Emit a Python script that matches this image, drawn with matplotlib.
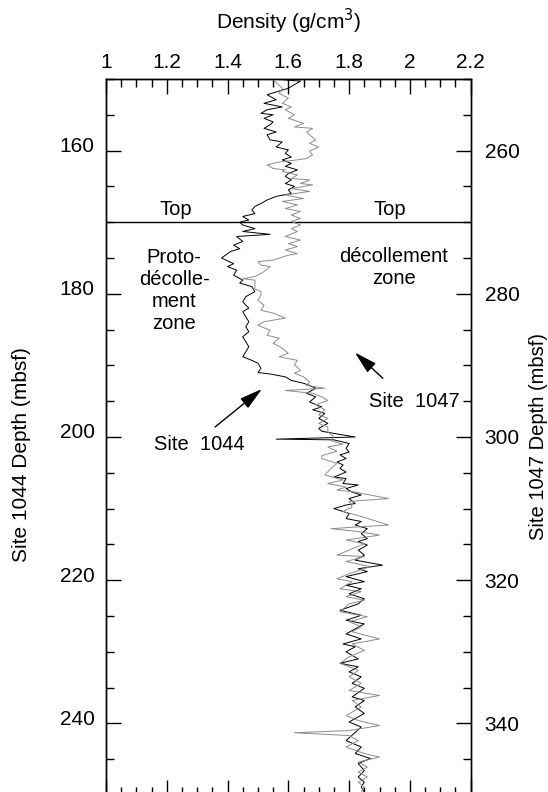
import matplotlib
matplotlib.use("Agg")
import matplotlib.pyplot as plt
from matplotlib.ticker import MultipleLocator
from matplotlib.transforms import ScaledTranslation

plt.rcParams['font.family'] = ['Liberation Sans', 'DejaVu Sans']

# Site 1044 (black): depth (mbsf) and density (g/cm3)
depth_1044 = [150.0, 150.3, 151.3, 152.2, 152.9, 153.4, 153.9, 154.3, 154.8, 155.0,
              155.5, 156.0, 156.4, 156.9, 157.4, 157.8, 158.5, 158.8, 159.5, 159.9,
              160.4, 160.9, 161.3, 161.8, 162.2, 162.7, 163.2, 163.6, 164.1, 164.6,
              165.0, 165.5, 166.0, 166.4, 166.9, 167.4, 167.8, 168.3, 168.8, 169.2,
              169.7, 170.0, 170.4, 170.9, 171.3, 171.7, 172.0, 172.7, 173.2, 173.7,
              174.1, 174.4, 175.0, 175.8, 176.2, 176.7, 177.4, 178.1, 178.5, 179.0,
              179.7, 180.4, 181.1, 181.6, 182.0, 182.5, 183.2, 183.9, 184.6, 185.3,
              186.0, 186.7, 187.4, 188.8, 189.3, 189.7, 190.4, 191.0, 191.2, 191.6,
              192.1, 192.5, 192.8, 193.2, 193.9, 194.4, 195.1, 195.8, 196.2, 196.7,
              197.4, 198.1, 198.8, 199.2, 199.5, 200.0, 200.3, 200.4, 200.9, 201.6,
              202.1, 202.5, 203.0, 203.5, 203.9, 204.4, 204.9, 205.6, 205.8, 206.5,
              206.7, 207.2, 207.7, 208.1, 208.6, 209.3, 209.5, 210.0, 210.4, 210.7,
              211.4, 211.8, 212.3, 212.8, 213.5, 214.2, 214.6, 215.1, 215.8, 216.5,
              217.2, 217.9, 218.4, 218.8, 219.5, 220.2, 220.7, 221.2, 221.9, 222.6,
              223.3, 224.2, 224.9, 225.6, 226.1, 227.5, 228.2, 228.9, 229.3, 230.0,
              231.0, 231.6, 232.1, 232.8, 233.5, 234.4, 235.1, 236.3, 236.8, 237.7,
              238.6, 239.8, 240.5, 242.4, 243.3, 244.2, 244.9, 245.6, 246.6, 247.5,
              248.2, 248.9, 249.6]
density_1044 = [1.55, 1.64, 1.60, 1.53, 1.56, 1.52, 1.58, 1.53, 1.51, 1.55,
                1.52, 1.55, 1.54, 1.52, 1.56, 1.53, 1.54, 1.58, 1.56, 1.60,
                1.59, 1.61, 1.58, 1.61, 1.59, 1.63, 1.60, 1.59, 1.61, 1.59,
                1.62, 1.60, 1.61, 1.56, 1.53, 1.51, 1.49, 1.48, 1.49, 1.45,
                1.47, 1.44, 1.45, 1.49, 1.45, 1.54, 1.43, 1.45, 1.42, 1.44,
                1.41, 1.40, 1.38, 1.42, 1.40, 1.43, 1.42, 1.45, 1.44, 1.48,
                1.49, 1.46, 1.45, 1.46, 1.47, 1.45, 1.46, 1.47, 1.46, 1.47,
                1.45, 1.46, 1.47, 1.45, 1.48, 1.50, 1.51, 1.50, 1.54, 1.59,
                1.61, 1.65, 1.67, 1.69, 1.66, 1.69, 1.67, 1.71, 1.68, 1.72,
                1.70, 1.73, 1.70, 1.71, 1.75, 1.82, 1.56, 1.75, 1.80, 1.79,
                1.80, 1.77, 1.79, 1.76, 1.78, 1.77, 1.79, 1.75, 1.79, 1.78,
                1.83, 1.79, 1.81, 1.84, 1.80, 1.82, 1.79, 1.75, 1.78, 1.80,
                1.79, 1.84, 1.82, 1.86, 1.84, 1.86, 1.83, 1.86, 1.83, 1.85,
                1.82, 1.91, 1.83, 1.86, 1.79, 1.85, 1.79, 1.84, 1.80, 1.85,
                1.83, 1.77, 1.84, 1.79, 1.85, 1.79, 1.84, 1.78, 1.82, 1.79,
                1.83, 1.77, 1.83, 1.80, 1.84, 1.81, 1.85, 1.81, 1.85, 1.82,
                1.85, 1.80, 1.84, 1.79, 1.84, 1.82, 1.87, 1.83, 1.85, 1.83,
                1.85, 1.84, 1.85]

# Site 1047 (grey): depth (mbsf) and density (g/cm3)
depth_1047 = [250.1, 251.3, 252.0, 252.7, 253.4, 253.9, 254.3, 255.0, 255.5, 256.2,
              256.7, 256.9, 257.4, 257.8, 258.5, 259.0, 259.5, 260.1, 260.6, 261.1,
              261.3, 261.6, 262.0, 262.5, 262.7, 262.9, 263.4, 263.9, 264.1, 264.6,
              264.8, 265.3, 265.7, 266.2, 266.7, 267.1, 267.6, 268.1, 268.5, 269.0,
              269.5, 269.9, 270.4, 270.9, 271.3, 272.0, 272.5, 273.0, 273.4, 273.9,
              274.4, 274.6, 275.3, 275.5, 276.0, 276.2, 276.9, 277.6, 277.9, 278.1,
              279.3, 279.7, 280.2, 280.9, 281.6, 282.3, 282.7, 283.4, 283.9, 284.4,
              285.1, 285.8, 286.2, 286.9, 287.6, 288.3, 288.8, 289.3, 289.9, 290.7,
              291.1, 291.6, 292.3, 292.8, 293.2, 293.5, 293.9, 294.4, 294.9, 295.5,
              296.2, 296.9, 297.4, 298.1, 298.6, 299.3, 300.0, 300.5, 301.0, 301.4,
              302.0, 302.6, 303.0, 303.7, 304.4, 305.3, 306.0, 306.5, 307.0, 307.4,
              307.7, 308.6, 309.0, 309.8, 310.4, 311.1, 312.3, 312.8, 313.2, 313.7,
              314.4, 314.9, 315.8, 316.5, 316.7, 317.4, 318.1, 319.1, 319.8, 320.2,
              321.2, 321.6, 322.3, 322.8, 323.3, 324.4, 325.1, 325.8, 326.5, 327.2,
              328.2, 328.9, 329.8, 330.7, 331.6, 332.6, 333.5, 334.4, 335.4, 336.1,
              336.8, 337.7, 338.9, 339.6, 340.3, 341.0, 341.3, 341.7, 342.4, 343.3,
              344.2, 344.7, 345.4, 346.1, 346.8, 347.5, 348.2, 348.9, 349.6]
density_1047 = [1.55, 1.58, 1.57, 1.60, 1.58, 1.61, 1.59, 1.62, 1.60, 1.65,
                1.62, 1.68, 1.66, 1.67, 1.69, 1.67, 1.70, 1.67, 1.68, 1.66,
                1.63, 1.57, 1.53, 1.55, 1.59, 1.58, 1.63, 1.61, 1.67, 1.64,
                1.68, 1.61, 1.67, 1.59, 1.65, 1.58, 1.63, 1.59, 1.64, 1.61,
                1.64, 1.61, 1.64, 1.61, 1.63, 1.59, 1.64, 1.60, 1.63, 1.59,
                1.63, 1.60, 1.55, 1.50, 1.51, 1.54, 1.52, 1.49, 1.45, 1.49,
                1.49, 1.51, 1.51, 1.50, 1.52, 1.51, 1.55, 1.59, 1.52, 1.50,
                1.54, 1.53, 1.57, 1.55, 1.58, 1.60, 1.57, 1.63, 1.62, 1.64,
                1.62, 1.65, 1.67, 1.66, 1.72, 1.59, 1.68, 1.71, 1.73, 1.69,
                1.72, 1.70, 1.73, 1.70, 1.73, 1.73, 1.75, 1.74, 1.78, 1.73,
                1.76, 1.71, 1.71, 1.76, 1.74, 1.72, 1.78, 1.73, 1.79, 1.76,
                1.82, 1.93, 1.80, 1.81, 1.78, 1.84, 1.93, 1.74, 1.83, 1.90,
                1.79, 1.85, 1.80, 1.76, 1.85, 1.79, 1.87, 1.80, 1.76, 1.81,
                1.77, 1.84, 1.79, 1.85, 1.80, 1.77, 1.86, 1.80, 1.84, 1.81,
                1.90, 1.81, 1.85, 1.80, 1.77, 1.83, 1.80, 1.84, 1.80, 1.90,
                1.81, 1.84, 1.79, 1.83, 1.90, 1.80, 1.62, 1.80, 1.83, 1.79,
                1.85, 1.90, 1.83, 1.86, 1.83, 1.86, 1.83, 1.85, 1.84]

xticks = [1, 1.2, 1.4, 1.6, 1.8, 2, 2.2]
xticklabels = ['1', '1.2', '1.4', '1.6', '1.8', '2', '2.2']
yticks_1044 = [160, 180, 200, 220, 240]
yticks_1047 = [260, 280, 300, 320, 340]
top_depth = 170

fig = plt.figure(figsize=(5.48, 7.92), dpi=100)
ax = fig.add_axes([0.1934, -0.0038, 0.6655, 0.9041])
ax2 = ax.twinx()

ax.plot(density_1044, depth_1044, color='black', lw=0.7, zorder=3)
ax2.plot(density_1047, depth_1047, color='#8c8c8c', lw=0.7, zorder=2)

ax.set_xlim(1, 2.2)
ax.set_ylim(250, 150)
ax2.set_ylim(350, 250)

ax.xaxis.tick_top()
ax.xaxis.set_label_position('top')
ax.set_xticks(xticks)
ax.set_xticklabels(xticklabels)
ax.xaxis.set_minor_locator(MultipleLocator(0.05))
ax.set_yticks(yticks_1044)
ax.yaxis.set_minor_locator(MultipleLocator(5))
ax2.set_yticks(yticks_1047)
ax2.yaxis.set_minor_locator(MultipleLocator(5))

for a in (ax, ax2):
    a.tick_params(which='major', direction='in', length=11, width=1, labelsize=15)
    a.tick_params(which='minor', direction='in', length=5.5, width=1)
    for s in a.spines.values():
        s.set_linewidth(1)
ax.tick_params(axis='x', which='both', top=True, bottom=True, labeltop=True, labelbottom=False, pad=5)
ax.tick_params(axis='y', which='both', left=True, right=False, pad=8)
ax2.tick_params(axis='y', which='both', right=True, left=False, pad=10)

# left tick labels sit slightly above their ticks in the original
shift = ScaledTranslation(0, 6 / 100, fig.dpi_scale_trans)
for lab in ax.get_yticklabels():
    lab.set_transform(lab.get_transform() + shift)

ax.set_xlabel('Density (g/cm$^3$)', fontsize=15, labelpad=17)
ax.set_ylabel('Site 1044 Depth (mbsf)', fontsize=15)
ax2.set_ylabel('Site 1047 Depth (mbsf)', fontsize=14.5, rotation=90)
ax.yaxis.set_label_coords(-0.205, 0.476)
ax2.yaxis.set_label_coords(1.16, 0.50)

ax.axhline(top_depth, color='black', lw=1, zorder=4)

fs = 14.5
ax.text(1.23, 168.3, 'Top', fontsize=fs, ha='center', va='center')
ax.text(1.934, 168.3, 'Top', fontsize=fs, ha='center', va='center')
ax.text(1.224, 179.5, 'Proto-\ndécolle-\nment\nzone', fontsize=fs, ha='center', va='center',
        linespacing=1.2)
ax.text(1.947, 176.3, 'décollement\nzone', fontsize=fs, ha='center', va='center',
        linespacing=1.2)
ax.text(2.013, 195.0, 'Site  1047', fontsize=fs, ha='center', va='center')
ax.text(1.306, 201.0, 'Site  1044', fontsize=fs, ha='center', va='center')

arrow = dict(arrowstyle='-|>,head_length=1.4,head_width=0.38', color='black', lw=1,
             shrinkA=0, shrinkB=0, mutation_scale=10)
ax.annotate('', xy=(1.819, 188.2), xytext=(1.911, 191.8), arrowprops=arrow)
ax.annotate('', xy=(1.513, 193.3), xytext=(1.359, 198.6), arrowprops=arrow)

fig.savefig('out.png', dpi=100)
